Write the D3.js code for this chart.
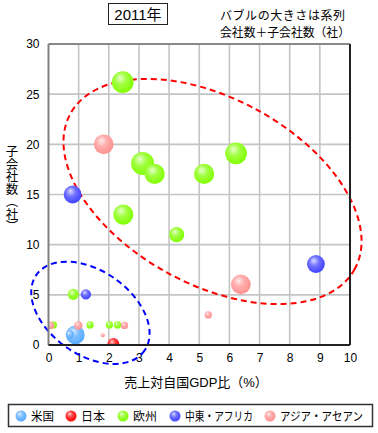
<!DOCTYPE html>
<html>
<head>
<meta charset="utf-8">
<script src="https://cdn.jsdelivr.net/npm/d3@7"></script>
<style>
body { margin: 0; background: #fff; }
svg { font-family: "Liberation Sans", "Noto Sans CJK JP", sans-serif; }
</style>
</head>
<body>
<script>
// series (x: 売上対自国GDP比, y: 子会社数, z: 系列会社数+子会社数)
var seriesNames = ["米国", "日本", "欧州", "中東・アフリカ", "アジア・アセアン"];
var usX = [0.89, 0.71];
var usY = [1.0, 1.05];
var usZ = [20, 4];
var jpX = [2.15];
var jpY = [0.1];
var jpZ = [8];
var euX = [2.46, 3.12, 3.52, 5.16, 6.22, 2.48, 4.25, 0.82, 0.16, 1.38, 2.02, 2.29];
var euY = [26.2, 18.1, 17.05, 17.05, 19.1, 13.0, 11.0, 5.05, 2.0, 2.0, 2.0, 2.0];
var euZ = [27, 30, 23, 23, 27, 23, 13, 7, 3, 3, 3, 3];
var meX = [0.8, 8.87, 1.24];
var meY = [15.0, 8.07, 5.05];
var meZ = [18, 18, 6];
var asX = [1.83, 6.38, 5.3, 0.07, 0.99, 2.52, 1.8];
var asY = [20.0, 6.04, 3.0, 1.95, 1.95, 1.95, 0.97];
var asZ = [22, 22, 3, 3, 4, 3, 1];
var xTicks = [0, 1, 2, 3, 4, 5, 6, 7, 8, 9, 10];
var yTicks = [0, 5, 10, 15, 20, 25, 30];

var colors = ["#55aaff", "#ff0000", "#80ff00", "#4040ff", "#ff9090"];

var width = 378, height = 433;
var margin = {top: 44, right: 28, bottom: 88, left: 48.5};
var w = width - margin.left - margin.right;
var h = height - margin.top - margin.bottom;

var x = d3.scaleLinear().domain([0, 10]).range([0, w]);
var y = d3.scaleLinear().domain([0, 30]).range([h, 0]);
var r = d3.scaleSqrt().domain([0, 30]).range([0, 11.5]);

var svg = d3.select("body").append("svg")
	.attr("width", width)
	.attr("height", height);

var defs = svg.append("defs");
colors.forEach(function(c, i) {
	var grad = defs.append("radialGradient")
		.attr("id", "ball" + i)
		.attr("cx", 0.42).attr("cy", 0.4).attr("r", 0.62)
		.attr("fx", 0.38).attr("fy", 0.3);
	grad.append("stop").attr("offset", "0%").attr("stop-color", d3.interpolateRgb(c, "#fff")(0.8));
	grad.append("stop").attr("offset", "45%").attr("stop-color", d3.interpolateRgb(c, "#fff")(0.25));
	grad.append("stop").attr("offset", "100%").attr("stop-color", c);
});
defs.append("clipPath").attr("id", "plotclip")
	.append("rect").attr("width", w).attr("height", h);

var g = svg.append("g")
	.attr("transform", "translate(" + margin.left + "," + margin.top + ")");

// grid
g.append("g").selectAll("line").data(xTicks.slice(1, -1)).enter().append("line")
	.attr("x1", function(d) { return x(d); }).attr("x2", function(d) { return x(d); })
	.attr("y1", 0).attr("y2", h)
	.attr("stroke", "#c4c4c4").attr("stroke-width", 1.6);
g.append("g").selectAll("line").data(yTicks.slice(1, -1)).enter().append("line")
	.attr("y1", function(d) { return y(d); }).attr("y2", function(d) { return y(d); })
	.attr("x1", 0).attr("x2", w)
	.attr("stroke", "#c4c4c4").attr("stroke-width", 1.6);

// axes
var leftAxis = d3.axisLeft(y).tickValues(yTicks).tickSize(0).tickPadding(9);
var ga = g.append("g").call(leftAxis);
var bottomAxis = d3.axisBottom(x).tickValues(xTicks).tickSize(0).tickPadding(8);
var gb = g.append("g").attr("transform", "translate(0," + h + ")").call(bottomAxis);
[ga, gb].forEach(function(a) {
	a.select(".domain").remove();
	a.selectAll("text").attr("font-size", "12px").attr("fill", "#000")
		.attr("font-family", "Liberation Sans, sans-serif");
});

// group ellipses (data-unit centres)
var ellipses = [
	{cx: 5.44, cy: 15.3, rx: 162, ry: 93, angle: 28.6, color: "#ff0000"},
	{cx: 1.39, cy: 3.21, rx: 66, ry: 42, angle: 35, color: "#0000ff"}
];
g.append("g").selectAll("ellipse").data(ellipses).enter().append("ellipse")
	.attr("transform", function(d) { return "translate(" + x(d.cx) + "," + y(d.cy) + ") rotate(" + d.angle + ")"; })
	.attr("rx", function(d) { return d.rx; })
	.attr("ry", function(d) { return d.ry; })
	.attr("fill", "none")
	.attr("stroke", function(d) { return d.color; })
	.attr("stroke-width", 2)
	.attr("stroke-dasharray", "6,4");

// bubbles
var series = [[usX, usY, usZ], [jpX, jpY, jpZ], [euX, euY, euZ], [meX, meY, meZ], [asX, asY, asZ]];
var bub = g.append("g").attr("clip-path", "url(#plotclip)");
series.forEach(function(s, i) {
	var pts = s[0].map(function(v, k) { return {x: v, y: s[1][k], z: s[2][k]}; });
	pts.sort(function(a, b) { return b.z - a.z; });
	bub.append("g").selectAll("circle").data(pts).enter().append("circle")
		.attr("cx", function(d) { return x(d.x); })
		.attr("cy", function(d) { return y(d.y); })
		.attr("r", function(d) { return r(d.z); })
		.attr("fill", "url(#ball" + i + ")");
});

// frame
g.append("line").attr("x1", 0).attr("x2", w).attr("y1", 0).attr("y2", 0).attr("stroke", "#888").attr("stroke-width", 2);
g.append("line").attr("x1", 0).attr("x2", 0).attr("y1", 0).attr("y2", h).attr("stroke", "#808080").attr("stroke-width", 2);
g.append("line").attr("x1", w).attr("x2", w).attr("y1", 0).attr("y2", h).attr("stroke", "#222").attr("stroke-width", 2);
g.append("line").attr("x1", 0).attr("x2", w).attr("y1", h).attr("y2", h).attr("stroke", "#222").attr("stroke-width", 2);

// axis labels
svg.append("text")
	.attr("x", 196).attr("y", 387)
	.attr("text-anchor", "middle")
	.attr("font-size", "13px")
	.text("売上対自国GDP比（%）");
svg.append("text")
	.attr("x", 12).attr("y", 189)
	.attr("text-anchor", "middle")
	.attr("font-size", "12.5px")
	.style("writing-mode", "vertical-rl")
	.attr("font-family", "Noto Sans CJK JP")
	.text("子会社数（社）");

// title
svg.append("rect")
	.attr("x", 108.5).attr("y", 3.5).attr("width", 59).attr("height", 21)
	.attr("fill", "#fff").attr("stroke", "#222").attr("stroke-width", 1);
svg.append("text")
	.attr("x", 138).attr("y", 19.5)
	.attr("text-anchor", "middle")
	.attr("font-size", "15px")
	.text("2011年");

svg.append("text").attr("x", 220).attr("y", 19.5).attr("font-size", "12px")
	.attr("font-family", "Noto Sans CJK JP")
	.attr("textLength", 125).attr("lengthAdjust", "spacing")
	.text("バブルの大きさは系列");
svg.append("text").attr("x", 220).attr("y", 37).attr("font-size", "12px")
	.attr("font-family", "Noto Sans CJK JP")
	.attr("textLength", 130).attr("lengthAdjust", "spacingAndGlyphs")
	.text("会社数＋子会社数（社）");

// legend
svg.append("rect")
	.attr("x", 8.5).attr("y", 404.5).attr("width", 364).attr("height", 22)
	.attr("fill", "#fff").attr("stroke", "#333").attr("stroke-width", 1.5);
var labelW = [23, 25, 25, 68, 83];
var lx = 21;
seriesNames.forEach(function(name, i) {
	svg.append("circle").attr("cx", lx).attr("cy", 416).attr("r", 5.5)
		.attr("fill", "url(#ball" + i + ")");
	var t = svg.append("text").attr("x", lx + 10).attr("y", 420.5)
		.attr("font-size", "12px")
		.attr("font-family", "Noto Sans CJK JP")
		.text(name);
	if (t.node().getComputedTextLength() > labelW[i]) {
		t.attr("textLength", labelW[i]).attr("lengthAdjust", "spacingAndGlyphs");
	}
	lx += 10 + labelW[i] + 17;
});
</script>
</body>
</html>
